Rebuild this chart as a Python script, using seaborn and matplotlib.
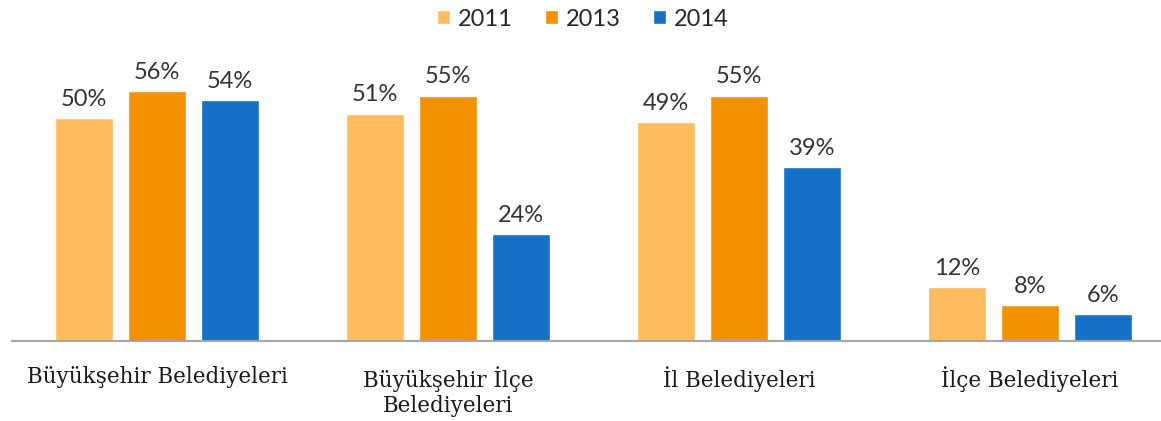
import matplotlib
matplotlib.use("Agg")
import matplotlib.pyplot as plt
import seaborn as sns
import pandas as pd

categories = ["Büyükşehir Belediyeleri", "Büyükşehir İlçe\nBelediyeleri", "İl Belediyeleri", "İlçe Belediyeleri"]
years = ["2011", "2013", "2014"]
v2011 = [50, 51, 49, 12]
v2013 = [56, 55, 55, 8]
v2014 = [54, 24, 39, 6]
colors = ["#FFBD5F", "#F39200", "#1570C6"]

rows = []
for y, vals in zip(years, [v2011, v2013, v2014]):
    for c, v in zip(categories, vals):
        rows.append({"cat": c, "year": y, "val": v})
df = pd.DataFrame(rows)

sns.set_theme(style="white")
fig = plt.figure(figsize=(11.61, 4.21), dpi=100)
ax = fig.add_axes([11.5/1161, 80/421, 1164/1161, 301/421])
sns.barplot(data=df, x="cat", y="val", hue="year", palette=colors, ax=ax,
            width=0.75, gap=0.2, saturation=1, legend=True)
ax.set_ylim(0, 67.5)
ax.set_xlim(-0.5, 3.5)
ax.set_xlabel("")
ax.set_ylabel("")
ax.set_yticks([])
for s in ["top", "right", "left"]:
    ax.spines[s].set_visible(False)
ax.spines["bottom"].set_color("#A6A6A6")
ax.spines["bottom"].set_linewidth(1.5)
ax.tick_params(axis="x", length=0, pad=18)
for lab in ax.get_xticklabels():
    lab.set_fontfamily("DejaVu Serif")
    lab.set_fontsize(15.5)
    lab.set_color("#1a1a1a")
    lab.set_linespacing(1.2)

for cont in ax.containers:
    ax.bar_label(cont, labels=[f"{int(v)}%" for v in cont.datavalues], padding=6,
                 fontsize=17, fontfamily="Lato", color="#333333")

handles, labels = ax.get_legend_handles_labels()
ax.legend_.remove()
fig.legend(handles, labels, loc="upper center", bbox_to_anchor=(0.502, 1.03), ncol=3,
           frameon=False, prop={"family": "Lato", "size": 17}, handlelength=0.55,
           handleheight=0.55, handletextpad=0.3, columnspacing=1.4)
fig.savefig("out.png", dpi=100)
